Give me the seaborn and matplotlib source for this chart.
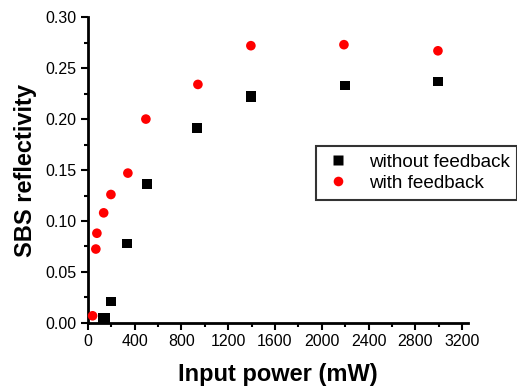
import numpy as np
import pandas as pd
import seaborn as sns
import matplotlib.pyplot as plt
from matplotlib.ticker import MultipleLocator

# values
power_without = [130, 150, 197, 333, 504, 932, 1394, 1394, 2198, 2994]
refl_without = [0.005, 0.005, 0.021, 0.078, 0.136, 0.191, 0.221, 0.223, 0.233, 0.237]
power_with = [40, 68, 77, 135, 197, 342, 496, 941, 1394, 2190, 2994]
refl_with = [0.007, 0.0725, 0.088, 0.108, 0.126, 0.147, 0.200, 0.234, 0.272, 0.273, 0.267]
labels = ['without feedback', 'with feedback']

df = pd.concat([
    pd.DataFrame({'power': power_without, 'refl': refl_without, 'case': labels[0]}),
    pd.DataFrame({'power': power_with, 'refl': refl_with, 'case': labels[1]}),
])

sns.set_style('ticks')
plt.rcParams['font.family'] = ['Liberation Sans', 'DejaVu Sans']
plt.rcParams['text.color'] = 'black'
plt.rcParams['axes.labelcolor'] = 'black'
plt.rcParams['xtick.color'] = 'black'
plt.rcParams['ytick.color'] = 'black'

fig = plt.figure(figsize=(5.17, 3.9), dpi=100)
ax = fig.add_axes([0.170, 0.172, 0.735, 0.784])

sns.scatterplot(data=df, x='power', y='refl', hue='case', style='case',
                palette={labels[0]: 'black', labels[1]: 'red'},
                markers={labels[0]: 's', labels[1]: 'o'},
                s=48, edgecolor='none', ax=ax, zorder=3, clip_on=False)

ax.set_xlim(0, 3250)
ax.set_ylim(0, 0.30)
ax.xaxis.set_major_locator(MultipleLocator(400))
ax.xaxis.set_minor_locator(MultipleLocator(200))
ax.yaxis.set_major_locator(MultipleLocator(0.05))
ax.yaxis.set_minor_locator(MultipleLocator(0.025))
ax.yaxis.set_major_formatter(plt.FormatStrFormatter('%.2f'))
ax.tick_params(which='major', length=5, width=1.5, labelsize=11.5, pad=3)
ax.tick_params(which='minor', length=3, width=1.5)

sns.despine(ax=ax)
for side in ['left', 'bottom']:
    ax.spines[side].set_linewidth(2)
    ax.spines[side].set_color('black')

ax.set_xlabel('Input power (mW)', fontsize=17, fontweight='bold', labelpad=10)
ax.set_ylabel('SBS reflectivity', fontsize=17, fontweight='bold', labelpad=6)

leg = ax.legend(loc='upper left', bbox_to_anchor=(0.6, 0.578), fontsize=13.6,
                frameon=True, fancybox=False, borderpad=0.4, labelspacing=0.2,
                handletextpad=0.9, handlelength=1.5, borderaxespad=0)
leg.get_frame().set_edgecolor('black')
leg.get_frame().set_linewidth(1.5)

fig.savefig('out.png', dpi=100)
